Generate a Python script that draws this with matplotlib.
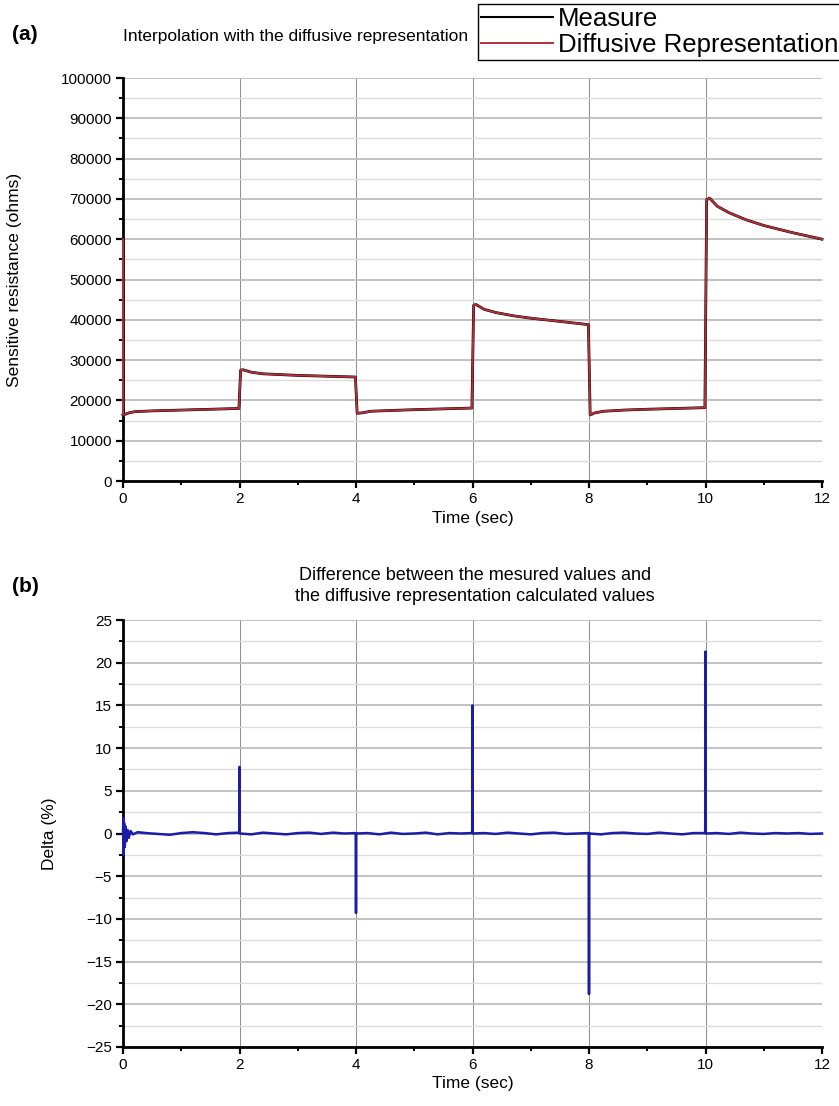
import matplotlib.pyplot as plt
from matplotlib.ticker import MultipleLocator

plt.rcParams['font.family'] = ['Liberation Sans', 'DejaVu Sans']

# ---- panel (a): sensor resistance vs time ----
meas_t = [0.0, 0.01, 0.1, 0.2, 0.5, 1.0, 1.5, 1.99,
          2.02, 2.06, 2.2, 2.4, 2.7, 3.0, 3.5, 3.99,
          4.02, 4.1, 4.25, 4.6, 5.0, 5.5, 5.99,
          6.02, 6.06, 6.2, 6.4, 6.7, 7.0, 7.5, 7.99,
          8.02, 8.1, 8.25, 8.6, 9.0, 9.5, 9.99,
          10.02, 10.07, 10.2, 10.4, 10.7, 11.0, 11.5, 12.0]
meas_r = [16500, 16400, 16900, 17200, 17400, 17600, 17800, 18000,
          27500, 27600, 27000, 26600, 26400, 26200, 26000, 25800,
          16800, 16900, 17300, 17500, 17700, 17900, 18100,
          43600, 43800, 42600, 41800, 41000, 40400, 39600, 38800,
          16400, 16900, 17300, 17600, 17800, 18000, 18200,
          69800, 70200, 68200, 66600, 64800, 63400, 61600, 60000]

# diffusive representation starts from its own initial value
rep_start_t = 0.0
rep_start_r = 60000
rep_t = [rep_start_t] + meas_t
rep_r = [rep_start_r] + meas_r

# ---- panel (b): relative difference ----
delta_t = [0.0, 0.005, 0.01, 0.02, 0.03, 0.045, 0.06, 0.08, 0.1, 0.13, 0.17,
           0.25, 0.4, 0.6, 0.8, 1.0, 1.2, 1.4, 1.6, 1.8, 1.995,
           2.0, 2.005, 2.2, 2.4, 2.6, 2.8, 3.0, 3.2, 3.4, 3.6, 3.8, 3.995,
           4.0, 4.005, 4.2, 4.4, 4.6, 4.8, 5.0, 5.2, 5.4, 5.6, 5.8, 5.995,
           6.0, 6.005, 6.2, 6.4, 6.6, 6.8, 7.0, 7.2, 7.4, 7.6, 7.8, 7.995,
           8.0, 8.005, 8.2, 8.4, 8.6, 8.8, 9.0, 9.2, 9.4, 9.6, 9.8, 9.995,
           10.0, 10.005, 10.2, 10.4, 10.6, 10.8, 11.0, 11.2, 11.4, 11.6, 11.8, 12.0]
delta_v = [0.0, 1.8, -2.5, 1.2, -1.6, 0.8, -0.9, 0.4, -0.5, 0.3, -0.1,
           0.15, 0.05, -0.05, -0.15, 0.05, 0.15, 0.05, -0.1, 0.05, 0.1,
           7.8, 0.0, -0.1, 0.1, 0.0, -0.1, 0.05, 0.1, -0.05, 0.1, 0.0, 0.05,
           -9.3, 0.0, 0.05, -0.1, 0.1, -0.05, 0.0, 0.1, -0.1, 0.05, 0.0, 0.05,
           15.0, 0.0, 0.05, -0.05, 0.1, 0.0, -0.1, 0.05, 0.1, -0.05, 0.0, 0.05,
           -18.8, 0.0, -0.1, 0.05, 0.1, 0.0, -0.05, 0.1, 0.0, -0.1, 0.05, 0.05,
           21.3, 0.0, 0.05, -0.05, 0.1, 0.0, -0.05, 0.05, 0.0, 0.05, -0.05, 0.0]

W, H = 839, 1106
fig = plt.figure(figsize=(W / 100, H / 100), dpi=100)


def style_axes(ax, ymajor, yminor):
    ax.spines['top'].set_visible(False)
    ax.spines['right'].set_visible(False)
    ax.spines['left'].set_linewidth(2)
    ax.spines['bottom'].set_linewidth(2)
    ax.set_xlim(0, 12)
    ax.xaxis.set_major_locator(MultipleLocator(2))
    ax.xaxis.set_minor_locator(MultipleLocator(1))
    ax.yaxis.set_major_locator(MultipleLocator(ymajor))
    ax.yaxis.set_minor_locator(MultipleLocator(yminor))
    ax.tick_params(which='major', direction='out', length=5, width=1.6, labelsize=11, pad=3)
    ax.tick_params(which='minor', direction='out', length=3, width=1.4)
    ax.grid(True, which='major', axis='y', color='#bdbdbd', lw=1.3)
    ax.grid(True, which='minor', axis='y', color='#dcdcdc', lw=1.0)
    ax.grid(True, which='major', axis='x', color='#8c8c8c', lw=0.7)
    ax.set_axisbelow(True)


# panel (a)
ax1 = fig.add_axes([123 / W, 1 - 481 / H, 699 / W, 403 / H])
style_axes(ax1, 10000, 5000)
ax1.set_ylim(0, 100000)
ax1.plot(meas_t, meas_r, color='black', lw=2.0, label='Measure', clip_on=False, zorder=3)
ax1.plot(rep_t, rep_r, color='#b2303a', lw=1.4, label='Diffusive Representation',
         clip_on=False, zorder=3)
ax1.set_xlabel('Time (sec)', fontsize=12.5)
ax1.set_ylabel('Sensitive resistance (ohms)', fontsize=12.5)
ax1.xaxis.set_label_coords(0.5, -0.075)
ax1.yaxis.set_label_coords(-0.145, 0.5)
leg = fig.legend(loc='upper left', bbox_to_anchor=(478 / W, 1 - 4 / H), fontsize=18.5,
                 frameon=True, fancybox=False, edgecolor='black', framealpha=1,
                 handlelength=2.8, handletextpad=0.2, borderpad=0.1, labelspacing=0.1,
                 borderaxespad=0)
leg.get_lines()[0].set_linewidth(1.5)
leg.get_frame().set_linewidth(1.0)

fig.text(12 / W, 1 - 35 / H, '(a)', fontsize=15, fontweight='bold', va='center')
fig.text(296 / W, 1 - 37 / H, 'Interpolation with the diffusive representation',
         fontsize=12.5, ha='center', va='center')

# panel (b)
ax2 = fig.add_axes([123 / W, 1 - 1047 / H, 699 / W, 427 / H])
style_axes(ax2, 5, 2.5)
ax2.set_ylim(-25, 25)
ax2.plot(delta_t, delta_v, color='#1c1ca8', lw=1.8, clip_on=False, zorder=3)
ax2.set_xlabel('Time (sec)', fontsize=12.5)
ax2.set_ylabel('Delta (%)', fontsize=12.5)
ax2.xaxis.set_label_coords(0.5, -0.068)
ax2.yaxis.set_label_coords(-0.095, 0.5)

fig.text(12 / W, 1 - 587 / H, '(b)', fontsize=15, fontweight='bold', va='center')
fig.text(475 / W, 1 - 586 / H,
         'Difference between the mesured values and\nthe diffusive representation calculated values',
         fontsize=13, ha='center', va='center', linespacing=1.25)

fig.savefig('out.png', dpi=100)
